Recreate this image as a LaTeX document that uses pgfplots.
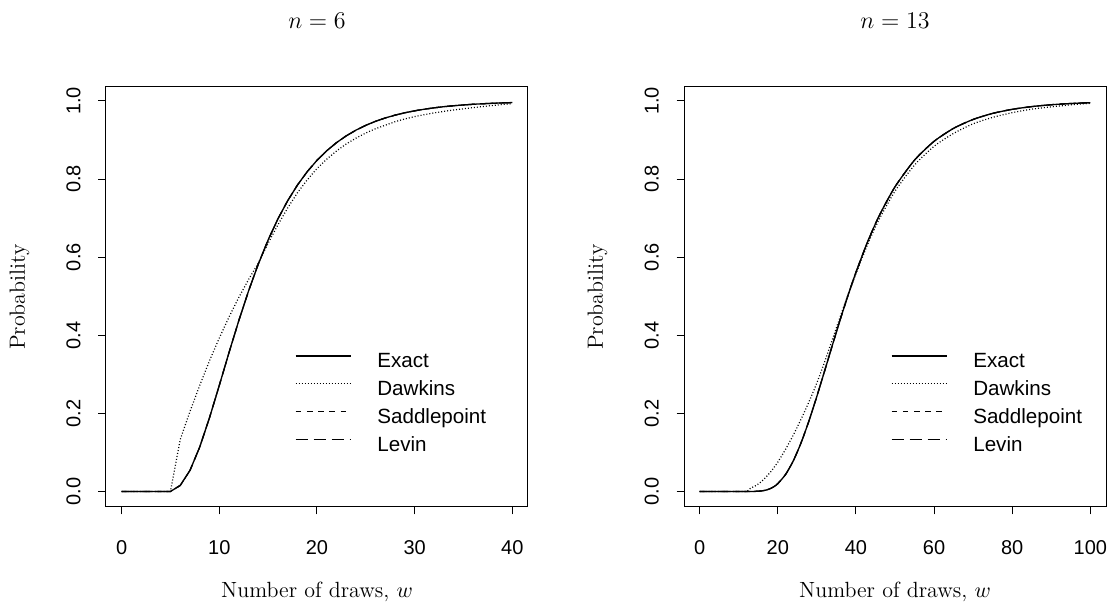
\documentclass[border=0pt]{standalone}
\usepackage{fontspec}
\usepackage{pgfplots}
\usepackage{pgfplotstable}
\pgfplotsset{compat=1.18}
\newfontfamily\hel{Liberation Sans}

\pgfplotstableread{
w p
0 0
1 0
2 0
3 0
4 0
5 0
6 0.015432
7 0.054012
8 0.114026
9 0.189043
10 0.271812
11 0.356206
12 0.437809
13 0.513854
14 0.582833
15 0.644220
16 0.697997
17 0.744634
18 0.784713
19 0.818921
20 0.847992
21 0.872568
22 0.893326
23 0.910767
24 0.925417
25 0.937696
26 0.947980
27 0.956584
28 0.963780
29 0.969787
30 0.974800
31 0.978984
32 0.982474
33 0.985392
34 0.987818
35 0.989849
36 0.991539
37 0.992947
38 0.994120
39 0.995104
40 0.995920
}\exactsix

\pgfplotstableread{
w p
0 0
1 0
2 0
3 0
4 0
5 0
6 0.133
7 0.205
8 0.272
9 0.335
10 0.393
11 0.447
12 0.497
13 0.543
14 0.585
15 0.636
16 0.683
17 0.726
18 0.765
19 0.798
20 0.827
21 0.851
22 0.872
23 0.890
24 0.905
25 0.918
26 0.929
27 0.938
28 0.947
29 0.954
30 0.960
31 0.965
32 0.9695
33 0.9734
34 0.977
35 0.980
36 0.983
37 0.9858
38 0.9885
39 0.991
40 0.993
}\dawkinssix

\pgfplotstableread{
w p
0 0
4 0
8 0
12 0
13 0.0000206
14 0.000144
15 0.000554
16 0.00155
17 0.00353
18 0.00697
19 0.0122
20 0.0200
22 0.0436
24 0.0790
26 0.1256
28 0.1814
30 0.2435
32 0.3091
34 0.3755
36 0.4407
38 0.5029
40 0.5611
43 0.6396
46 0.7070
50 0.7802
55 0.8486
60 0.8967
65 0.9300
70 0.9527
75 0.9682
80 0.9786
85 0.9856
90 0.9904
95 0.9935
100 0.9957
}\exactthirteen

\pgfplotstableread{
w p
0 0
4 0
8 0
12 0
13 0.008
14 0.013
15 0.019
16 0.027
17 0.037
18 0.048
19 0.061
20 0.075
22 0.108
24 0.145
26 0.186
28 0.230
30 0.278
32 0.332
34 0.390
36 0.448
38 0.504
40 0.557
43 0.633
46 0.698
50 0.769
55 0.836
60 0.884
65 0.917
70 0.9415
75 0.958
80 0.970
85 0.979
90 0.985
95 0.990
100 0.994
}\dawkinsthirteen

\pgfplotsset{
  rstyle/.style={
    width=211pt, height=210pt, scale only axis,
    axis line style={line width=0.5pt},
    tick align=outside, xtick pos=bottom, ytick pos=left,
    major tick length=3.75pt,
    every tick/.style={line width=0.5pt, black},
    ymin=-0.0398, ymax=1.0358,
    ytick={0,0.2,0.4,0.6,0.8,1.0},
    yticklabels={0.0,0.2,0.4,0.6,0.8,1.0},
    tick label style={font=\hel\fontsize{10}{12}\selectfont},
    xticklabel style={anchor=base, yshift=-20pt},
    yticklabel style={rotate=90, anchor=base},
    yticklabel shift=9pt,
    xlabel={Number of draws, $w$},
    xlabel style={at={(axis description cs:0.5,0)}, anchor=base, yshift=-45.5pt, font=\fontsize{11}{13}\selectfont},
    ylabel={Probability},
    ylabel style={at={(axis description cs:-0.192,0.5)}, anchor=base, font=\fontsize{11}{13}\selectfont},
    title style={at={(axis description cs:0.5,1)}, anchor=base, yshift=23pt, font=\fontsize{12}{14}\selectfont},
    legend cell align=left,
    legend image code/.code={\draw[#1] (0pt,3.4pt) -- (27.5pt,3.4pt);},
    legend style={draw=none, fill=none, inner sep=0pt, outer sep=0pt, anchor=north west,
      font=\hel\fontsize{10.3}{12}\selectfont, row sep=4pt,
      nodes={inner sep=0pt, text height=7.5pt, text depth=2.5pt},
      /tikz/every odd column/.append style={column sep=13pt}},
  },
  exactst/.style={black, line width=0.65pt, solid},
  dawkst/.style={black, line width=0.6pt, dash pattern=on 0.5pt off 1pt},
  saddst/.style={black, line width=0.6pt, dash pattern=on 2.8pt off 2.8pt},
  levst/.style={black, line width=0.6pt, dash pattern=on 6pt off 3pt},
}

\begin{document}
\begin{tikzpicture}
\path[use as bounding box] (-53pt,-51pt) rectangle (501pt,253.5pt);
\begin{axis}[rstyle, at={(0pt,0pt)}, anchor=south west,
  xmin=-1.6, xmax=41.6, xtick={0,10,20,30,40}, xticklabels={0,10,20,30,40},
  title={$n=6$},
  legend style={at={(axis description cs:0.448,0.3674)}}]
\addplot[exactst] table[x=w,y=p] {\exactsix};
\addlegendentry{Exact}
\addplot[dawkst] table[x=w,y=p] {\dawkinssix};
\addlegendentry{Dawkins}
\addplot[saddst] table[x=w,y=p] {\exactsix};
\addlegendentry{Saddlepoint}
\addplot[levst] table[x=w,y=p] {\exactsix};
\addlegendentry{Levin}
\end{axis}
\begin{axis}[rstyle, at={(289pt,0pt)}, anchor=south west,
  xmin=-4, xmax=104, xtick={0,20,40,60,80,100}, xticklabels={0,20,40,60,80,100},
  title={$n=13$},
  legend style={at={(axis description cs:0.4905,0.3674)}}]
\addplot[exactst, smooth, tension=0.4] table[x=w,y=p] {\exactthirteen};
\addlegendentry{Exact}
\addplot[dawkst, smooth, tension=0.4] table[x=w,y=p] {\dawkinsthirteen};
\addlegendentry{Dawkins}
\addplot[saddst, smooth, tension=0.4] table[x=w,y=p] {\exactthirteen};
\addlegendentry{Saddlepoint}
\addplot[levst, smooth, tension=0.4] table[x=w,y=p] {\exactthirteen};
\addlegendentry{Levin}
\end{axis}
\end{tikzpicture}
\end{document}
